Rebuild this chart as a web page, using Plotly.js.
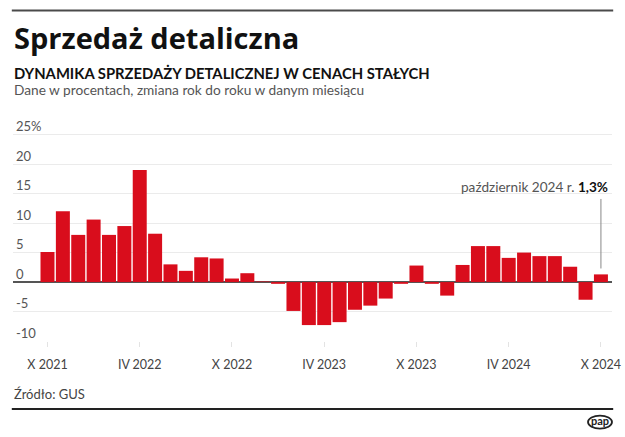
<!DOCTYPE html>
<html>
<head>
<meta charset="utf-8">
<script src="https://cdn.plot.ly/plotly-3.0.1.min.js"></script>
<style>
html,body{margin:0;padding:0;background:#fff;}
#chart{width:625px;height:437px;}
</style>
</head>
<body>
<div id="chart"></div>
<script>
// Months (Oct 2021 – Oct 2024)
const months = [
  '2021-10','2021-11','2021-12',
  '2022-01','2022-02','2022-03','2022-04','2022-05','2022-06','2022-07','2022-08','2022-09','2022-10','2022-11','2022-12',
  '2023-01','2023-02','2023-03','2023-04','2023-05','2023-06','2023-07','2023-08','2023-09','2023-10','2023-11','2023-12',
  '2024-01','2024-02','2024-03','2024-04','2024-05','2024-06','2024-07','2024-08','2024-09','2024-10'
];
// Retail sales, constant prices, y/y %
const values = [
  5.1, 12.0, 8.0,
  10.6, 8.0, 9.5, 19.0, 8.2, 3.0, 1.9, 4.2, 4.0, 0.6, 1.5, 0.1,
  -0.3, -4.9, -7.3, -7.3, -6.8, -4.7, -4.0, -2.8, -0.3, 2.8, -0.3, -2.3,
  2.9, 6.1, 6.1, 4.1, 5.0, 4.4, 4.4, 2.6, -3.0, 1.3
];
const xTickVals = ['2021-10','2022-04','2022-10','2023-04','2023-10','2024-04','2024-10'];
const xTickText = ['X 2021','IV 2022','X 2022','IV 2023','X 2023','IV 2024','X 2024'];
const yTickVals = [-10, -5, 0, 5, 10, 15, 20, 25];
const yTickText = ['-10', '-5', '0', '5', '10', '15', '20', '25%'];

const FONT = 'Lato, "Open Sans", sans-serif';
const TITLEFONT = '"Open Sans", Lato, sans-serif';
const RED = '#d90d1c';
const lastIdx = values.length - 1;
const lastVal = values[lastIdx];

// layout geometry (pixels)
const BOTTOM = 341;           // plot bottom (y = -10)
const TOP = 117.3;            // plot top (y = 28)
const H = BOTTOM - TOP;
const W = 599;
const py = p => (BOTTOM - p) / H;   // pixel y -> paper y
const px = p => (p - 13) / W;       // pixel x -> paper x

const trace = {
  type: 'bar',
  x: months,
  y: values,
  marker: {color: RED, line: {width: 0}},
  hoverinfo: 'skip'
};

const layout = {
  width: 625, height: 437,
  margin: {l: 13, r: 13, t: TOP, b: 437 - BOTTOM, pad: 0},
  paper_bgcolor: '#fff', plot_bgcolor: '#fff',
  showlegend: false,
  bargap: 0.09,
  font: {family: FONT, color: '#555'},
  xaxis: {
    type: 'category',
    range: [-2.244, 36.72],
    tickvals: xTickVals, ticktext: xTickText,
    ticks: 'outside', ticklen: 5, tickcolor: '#e3e3e3', tickwidth: 1,
    ticklabelstandoff: 7,
    showgrid: false, showline: false, zeroline: false,
    tickfont: {family: FONT, size: 12.5, color: '#444'},
    fixedrange: true
  },
  yaxis: {
    range: [-10, 28],
    tickvals: yTickVals, ticktext: yTickText,
    ticklabelposition: 'inside', ticklabelshift: -8, ticklabelstandoff: 0,
    ticks: '',
    showgrid: true, gridcolor: '#ebebeb', gridwidth: 1,
    zeroline: true, zerolinecolor: '#555', zerolinewidth: 2,
    showline: false,
    tickfont: {family: FONT, size: 13, color: '#555'},
    fixedrange: true
  },
  shapes: [
    {type: 'line', xref: 'paper', yref: 'paper', x0: -0.002, x1: 1.002, y0: py(11), y1: py(11),
      line: {color: '#4a4a4a', width: 2}},
    {type: 'line', xref: 'paper', yref: 'paper', x0: -0.002, x1: 1.002, y0: py(409), y1: py(409),
      line: {color: '#222', width: 2}},
    {type: 'line', xref: 'x', yref: 'y', x0: months[lastIdx], x1: months[lastIdx], y0: lastVal + 1.0, y1: 14.1,
      line: {color: '#888', width: 1}},
    {type: 'circle', xref: 'paper', yref: 'paper',
      x0: px(588), x1: px(612), y0: py(428.5), y1: py(415.5),
      line: {color: '#222', width: 1.8}, fillcolor: 'rgba(0,0,0,0)'}
  ],
  annotations: [
    {xref: 'paper', yref: 'paper', x: -0.002, y: py(38), xanchor: 'left', yanchor: 'middle',
      text: '<b>Sprzedaż detaliczna</b>', showarrow: false,
      font: {family: TITLEFONT, size: 29, color: '#111'}},
    {xref: 'paper', yref: 'paper', x: -0.002, y: py(73), xanchor: 'left', yanchor: 'middle',
      text: '<b>DYNAMIKA SPRZEDAŻY DETALICZNEJ W CENACH STAŁYCH</b>', showarrow: false,
      font: {family: FONT, size: 14.8, color: '#111'}},
    {xref: 'paper', yref: 'paper', x: -0.002, y: py(90), xanchor: 'left', yanchor: 'middle',
      text: 'Dane w procentach, zmiana rok do roku w danym miesiącu', showarrow: false,
      font: {family: FONT, size: 13.7, color: '#555'}},
    {xref: 'paper', yref: 'paper', x: 0.997, y: py(187), xanchor: 'right', yanchor: 'middle',
      text: 'październik 2024 r. <b style="color:#111">1,3%</b>', showarrow: false,
      font: {family: FONT, size: 13.6, color: '#555'}},
    {xref: 'paper', yref: 'paper', x: -0.002, y: py(394), xanchor: 'left', yanchor: 'middle',
      text: 'Źródło: GUS', showarrow: false,
      font: {family: FONT, size: 13, color: '#444'}},
    {xref: 'paper', yref: 'paper', x: px(600), y: py(420.5), xanchor: 'center', yanchor: 'middle',
      text: '<b>pap</b>', showarrow: false, borderpad: 0,
      font: {family: FONT, size: 11, color: '#222'}}
  ]
};

Plotly.newPlot('chart', [trace], layout, {displayModeBar: false, staticPlot: true});
</script>
</body>
</html>
